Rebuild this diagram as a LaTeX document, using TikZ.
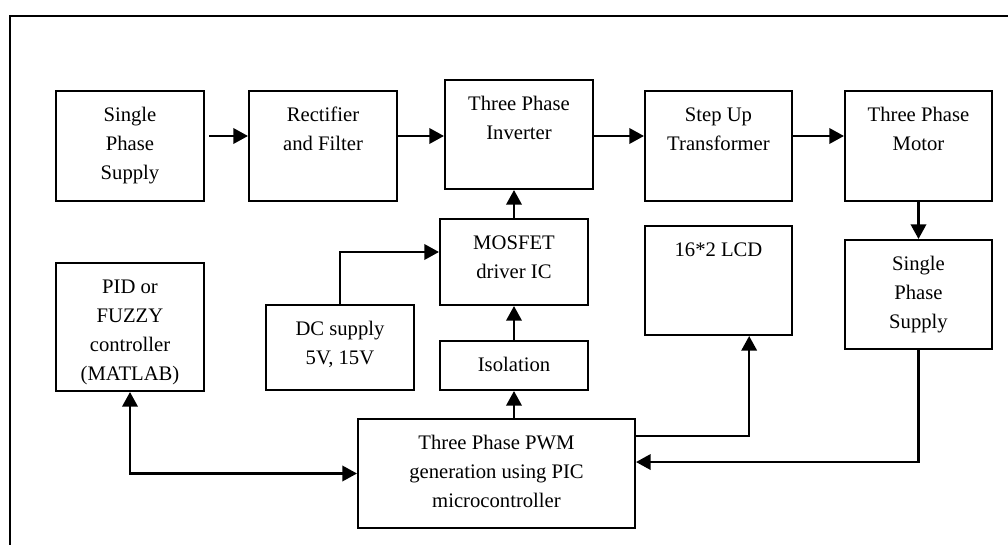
\documentclass[tikz,border=0pt]{standalone}
\usepackage{fontspec}
\setmainfont{Liberation Serif}
\usetikzlibrary{arrows.meta}
\tikzset{
	blk/.style={draw,line width=1.5pt,inner sep=0pt,anchor=north west},
	arr/.style={line width=1.9pt,-{Triangle[length=11pt,width=11.5pt]}},
	dbl/.style={line width=1.9pt,{Triangle[length=11pt,width=11.5pt]}-{Triangle[length=11pt,width=11.5pt]}}
}
\newcommand{\blktext}[3]{\parbox[c][#2][t]{#1}{\centering\rule{0pt}{23pt}#3\par}}

\begin{document}
\begin{tikzpicture}[x=0.75pt,y=-0.75pt,font=\fontsize{15.5}{21.75}\selectfont]
					\useasboundingbox (0,0) rectangle (1008,545);
					\draw[line width=1.4pt] (10,545) -- (10,16) -- (1008,16);

					\node [blk] (sps) at (55,90) {\blktext{111pt}{82.5pt}{Single\\Phase\\Supply}};
					\node [blk] (rect) at (248,90) {\blktext{111pt}{82.5pt}{Rectifier\\and Filter}};
					\node [blk] (inv) at (444,79) {\blktext{111pt}{81.75pt}{Three Phase\\Inverter}};
					\node [blk] (stepup) at (644,90) {\blktext{110.25pt}{82.5pt}{Step Up\\Transformer}};
					\node [blk] (motor) at (844,90) {\blktext{110.25pt}{82.5pt}{Three Phase\\Motor}};
					\node [blk] (sps2) at (844,239) {\blktext{110.25pt}{81.75pt}{Single\\Phase\\Supply}};
					\node [blk] (lcd) at (644,225) {\blktext{110.25pt}{81.75pt}{16*2 LCD}};
					\node [blk] (mos) at (439,218) {\blktext{111pt}{64.5pt}{MOSFET\\driver IC}};
					\node [blk] (iso) at (439,340) {\blktext{111pt}{36.75pt}{Isolation}};
					\node [blk] (pwm) at (357,418) {\blktext{207.75pt}{81.75pt}{Three Phase PWM\\generation using PIC\\microcontroller}};
					\node [blk] (dc) at (265,304) {\blktext{111pt}{63.75pt}{DC supply\\5V, 15V}};
					\node [blk] (pid) at (55,262) {\blktext{111pt}{96pt}{PID or\\FUZZY\\controller\\(MATLAB)}};

					\coordinate (toplvl) at (0,136);
					\coordinate (dclvl) at (0,252);
					\draw [arr] ([xshift=3pt]sps.east |- toplvl) -- (rect.west |- toplvl);
					\draw [arr] (rect.east |- toplvl) -- (inv.west |- toplvl);
					\draw [arr] (inv.east |- toplvl) -- (stepup.west |- toplvl);
					\draw [arr] (stepup.east |- toplvl) -- (motor.west |- toplvl);
					\draw [arr] (motor.south) -- (sps2.north);
					\draw [arr] (mos.north) -- (mos.north |- inv.south);
					\draw [arr] (iso.north) -- (mos.south);
					\draw [arr] (iso.south |- pwm.north) -- (iso.south);
					\draw [arr] (dc.north) |- (mos.west |- dclvl);
					\draw [dbl] (pid.south) |- (pwm.west);
					\draw [arr] ([yshift=28pt]pwm.east) -| ([xshift=23pt]lcd.south);
					\draw [arr] (sps2.south) |- ([yshift=8.6pt]pwm.east);
				\end{tikzpicture}
\end{document}
